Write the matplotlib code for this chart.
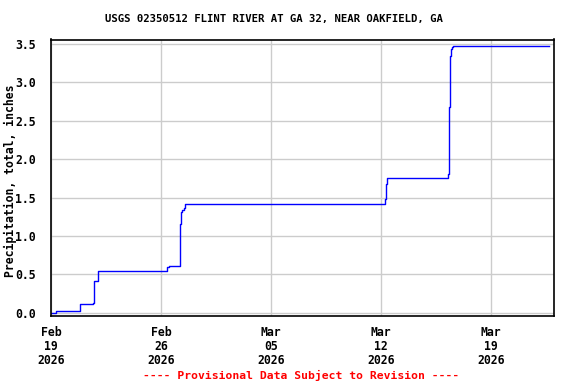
import numpy as np
import pandas as pd
import matplotlib
matplotlib.use('Agg')
import matplotlib.pyplot as plt
import matplotlib.dates as mdates
from matplotlib.ticker import FormatStrFormatter

# sample data
times = ['2026-02-19 00:00', '2026-02-19 07:45', '2026-02-20 19:45', '2026-02-20 21:00',
         '2026-02-21 16:30', '2026-02-21 18:15', '2026-02-21 23:15', '2026-02-26 08:45',
         '2026-02-26 11:45', '2026-02-27 05:30', '2026-02-27 07:00', '2026-02-27 08:45',
         '2026-02-27 10:30', '2026-02-27 12:00', '2026-03-12 05:45', '2026-03-12 07:15',
         '2026-03-12 08:45', '2026-03-16 06:00', '2026-03-16 07:30', '2026-03-16 09:00',
         '2026-03-16 10:30', '2026-03-16 12:00', '2026-03-16 13:30', '2026-03-22 16:00']
precip = [0.00, 0.02, 0.04, 0.11,
          0.12, 0.41, 0.54, 0.59,
          0.61, 1.15, 1.31, 1.34,
          1.36, 1.41, 1.48, 1.68,
          1.76, 1.81, 2.68, 3.34,
          3.44, 3.46, 3.47, 3.47]
tick_dates = ['2026-02-19', '2026-02-26', '2026-03-05', '2026-03-12', '2026-03-19']
yticks = [0.0, 0.5, 1.0, 1.5, 2.0, 2.5, 3.0, 3.5]

t = pd.to_datetime(times)
font = dict(family='DejaVu Sans Mono', weight='bold')

fig = plt.figure(figsize=(5.76, 3.84), dpi=100)
ax = fig.add_axes([51/576, 1-316/384, (554-51)/576, (316-39.5)/384])
ax.plot(t, precip, drawstyle='steps-post', color='#0000ff', linewidth=1)

ax.set_xlim(pd.Timestamp('2026-02-19'), pd.Timestamp('2026-03-23'))
ax.set_ylim(-0.043, 3.559)
ax.set_xticks(pd.to_datetime(tick_dates))
ax.xaxis.set_major_formatter(mdates.DateFormatter('%b\n%d\n%Y'))
ax.set_yticks(yticks)
ax.yaxis.set_major_formatter(FormatStrFormatter('%.1f'))
ax.grid(True, color='#cccccc', linewidth=1)
ax.set_axisbelow(True)
ax.tick_params(axis='y', length=0, pad=11)
ax.tick_params(axis='x', length=0, pad=7)
for lab in ax.get_xticklabels() + ax.get_yticklabels():
    lab.set_fontfamily('DejaVu Sans Mono')
    lab.set_fontweight('bold')
    lab.set_fontsize(8.3)
for lab in ax.get_xticklabels():
    lab.set_linespacing(1.1)
for s in ax.spines.values():
    s.set_linewidth(1.2)

ax.set_ylabel('Precipitation, total, inches', fontsize=8.3, **font)
ax.yaxis.set_label_coords(-34/503, 0.5 - 3/276)
fig.text(274/576, 1-19/384, 'USGS 02350512 FLINT RIVER AT GA 32, NEAR OAKFIELD, GA',
         ha='center', va='center', fontsize=7.7, **font)
fig.text(301/576, 1-375/384, '---- Provisional Data Subject to Revision ----',
         ha='center', va='center', fontsize=8.2, color='red', **font)

plt.savefig('out.png', dpi=100)
